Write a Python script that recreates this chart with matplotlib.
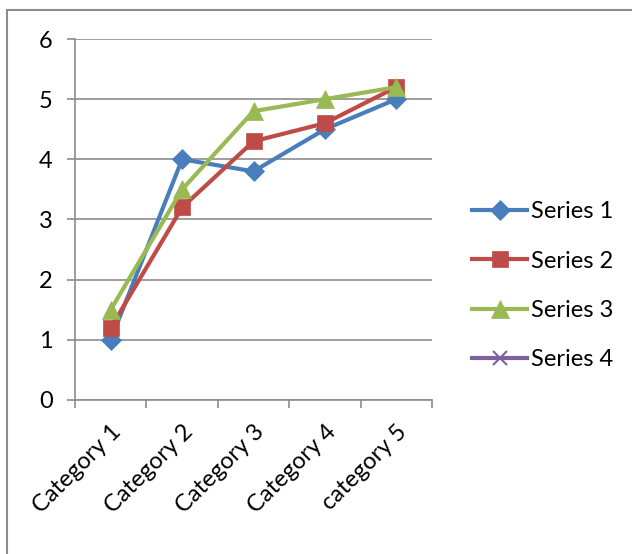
import numpy as np
import matplotlib.pyplot as plt
from matplotlib.patches import Rectangle

# chart data
categories = ['Category 1', 'Category 2', 'Category 3', 'Category 4', 'category 5']
series_names = ['Series 1', 'Series 2', 'Series 3', 'Series 4']
series_1 = [1.0, 4.0, 3.8, 4.5, 5.0]
series_2 = [1.2, 3.2, 4.3, 4.6, 5.2]
series_3 = [1.5, 3.5, 4.8, 5.0, 5.2]
series_4 = []  # no values, legend entry only

colors = ['#4A7EBB', '#BE4B48', '#98B954', '#7D60A0']
markers = ['D', 's', '^', 'x']
marker_sizes = [10, 12, 13, 10]

plt.rcParams['font.family'] = ['Lato', 'DejaVu Sans']

fig = plt.figure(figsize=(6.32, 5.54), dpi=100)
ax = fig.add_axes([0.1187, 0.278, 0.5649, 0.6516])

x = np.arange(len(categories))
all_series = [series_1, series_2, series_3, series_4]
for vals, name, c, m, ms in zip(all_series, series_names, colors, markers, marker_sizes):
    ax.plot(x[:len(vals)], vals, color=c, lw=3, marker=m, ms=ms,
            markeredgecolor=c, markeredgewidth=1.5 if m == 'x' else 0.5,
            label=name, solid_joinstyle='round', zorder=3)

ax.set_xlim(-0.5, len(categories) - 0.5)
ax.set_ylim(0, 6)
ax.set_yticks(range(0, 7))
ax.yaxis.grid(True, color='#8c8c8c', lw=1.2)
ax.set_axisbelow(True)

# ticks sit between categories, labels centred under each point
ax.set_xticks(np.arange(-0.5, len(categories)), minor=False)
ax.set_xticklabels([])
ax.set_xticks(x, minor=True)
ax.set_xticklabels(categories, minor=True, rotation=45, ha='right',
                   rotation_mode='anchor', fontsize=17)
ax.tick_params(axis='x', which='minor', length=0, pad=15)
ax.tick_params(axis='x', which='major', length=6, width=1.2, color='#8c8c8c')
ax.tick_params(axis='y', length=6, width=1.2, color='#8c8c8c', labelsize=17, pad=10)

for side in ['top', 'right']:
    ax.spines[side].set_visible(False)
for side in ['left', 'bottom']:
    ax.spines[side].set_color('#8c8c8c')
    ax.spines[side].set_linewidth(1.2)

leg = fig.legend(loc='center left', bbox_to_anchor=(472 / 632, 0.484), frameon=False,
                 fontsize=17, handlelength=2.35, handletextpad=0.15, labelspacing=1.2,
                 borderpad=0, borderaxespad=0)

# outer chart border
fig.patches.append(Rectangle((7 / 632, -0.05), 1.1, 1 - 10 / 554 + 0.05,
                             transform=fig.transFigure, fill=False,
                             edgecolor='#8c8c8c', lw=1.5))

fig.savefig('out.png', dpi=100)
